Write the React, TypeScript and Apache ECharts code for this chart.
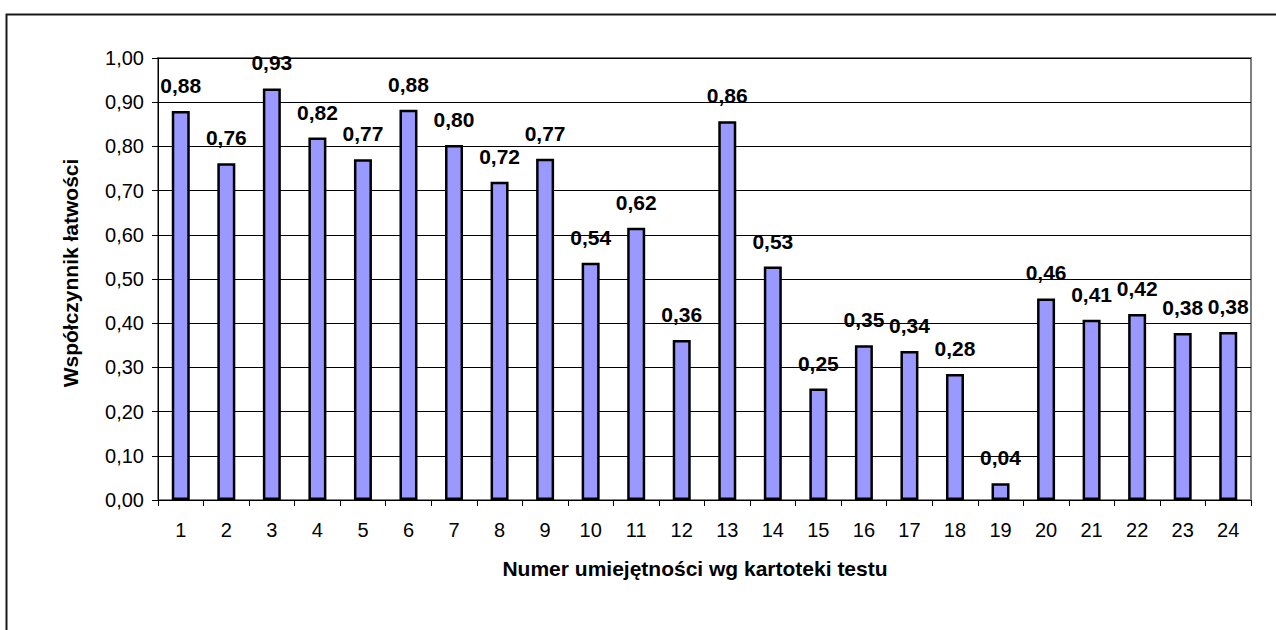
import React, { useEffect, useRef } from "react";
import * as echarts from "echarts";

const categories = ["1","2","3","4","5","6","7","8","9","10","11","12","13","14","15","16","17","18","19","20","21","22","23","24"];
const values = [0.88, 0.762, 0.931, 0.82, 0.771, 0.883, 0.803, 0.72, 0.772, 0.537, 0.616, 0.362, 0.857, 0.528, 0.252, 0.35, 0.337, 0.285, 0.038, 0.456, 0.408, 0.421, 0.378, 0.38];
const yTitle = "Współczynnik łatwości";
const xTitle = "Numer umiejętności wg kartoteki testu";

const FONT = "'Liberation Sans', Arial, sans-serif";
const fmt = (v: number) => v.toFixed(2).replace(".", ",");

export default function App() {
  const ref = useRef<HTMLDivElement>(null);
  useEffect(() => {
    if (!ref.current) return;
    const chart = echarts.init(ref.current, null, { renderer: "svg" });
    chart.setOption({
      animation: false,
      backgroundColor: "#ffffff",
      grid: {
        left: 158,
        top: 58,
        right: 25,
        bottom: 130,
        show: true,
        borderColor: "#808080",
        borderWidth: 2,
        backgroundColor: "#ffffff",
      },
      xAxis: {
        type: "category",
        data: categories,
        axisLine: { show: true, lineStyle: { color: "#000", width: 1 } },
        axisTick: { show: true, inside: false, length: 6, lineStyle: { color: "#000" } },
        axisLabel: { color: "#000", fontFamily: FONT, fontSize: 20, margin: 20 },
        splitLine: { show: false },
      },
      yAxis: {
        type: "value",
        min: 0,
        max: 1,
        interval: 0.1,
        axisLine: { show: true, lineStyle: { color: "#000", width: 1 } },
        axisTick: { show: true, inside: false, length: 6, lineStyle: { color: "#000" } },
        axisLabel: { color: "#000", fontFamily: FONT, fontSize: 20, margin: 14, formatter: (v: number) => fmt(v) },
        splitLine: { show: true, lineStyle: { color: "#000", width: 1 } },
      },
      series: [
        {
          type: "bar",
          data: values,
          barWidth: 18,
          itemStyle: { color: "#9999FF", borderColor: "#000", borderWidth: 2.5 },
          label: {
            show: true,
            position: "top",
            distance: 15,
            color: "#000",
            fontFamily: FONT,
            fontWeight: "bold",
            fontSize: 21,
            formatter: (p: any) => fmt(p.value),
          },
        },
      ],
      graphic: [
        {
          type: "rect",
          left: 4,
          top: 12,
          shape: { x: 0, y: 0, width: 1400, height: 800 },
          style: { fill: "none", stroke: "#1a1a1a", lineWidth: 2 },
          silent: true,
          z: -10,
        },
        {
          type: "text",
          x: 70,
          y: 273,
          rotation: Math.PI / 2,
          style: {
            text: yTitle,
            fill: "#000",
            font: `bold 21px ${FONT}`,
            textAlign: "center",
            textVerticalAlign: "middle",
          },
        },
        {
          type: "text",
          x: 695,
          y: 568,
          style: {
            text: xTitle,
            fill: "#000",
            font: `bold 21px ${FONT}`,
            textAlign: "center",
            textVerticalAlign: "middle",
          },
        },
      ],
    });
    return () => chart.dispose();
  }, []);
  return (
    <div
      ref={ref}
      style={{ position: "absolute", left: 0, top: 0, width: 1276, height: 630 }}
    />
  );
}
